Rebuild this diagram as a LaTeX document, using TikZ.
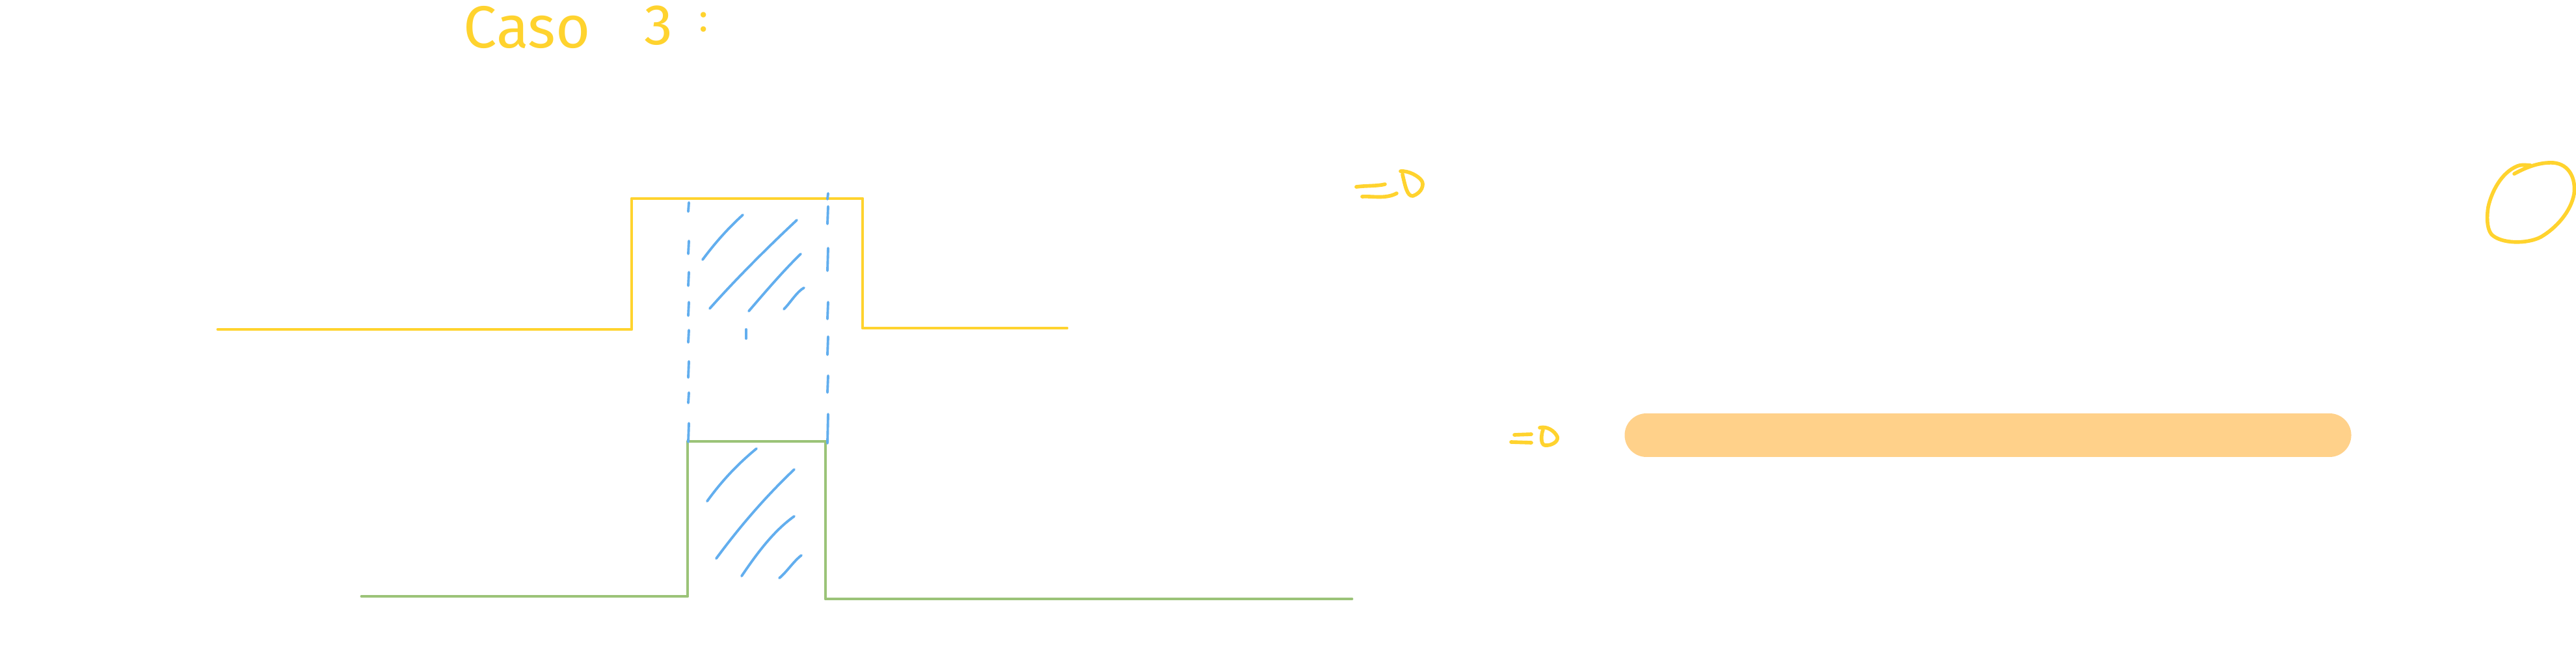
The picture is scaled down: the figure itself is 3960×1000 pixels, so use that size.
\documentclass[tikz,border=0pt]{standalone}
\usepackage{fontspec}
\setmainfont{Fira Sans}
\definecolor{hyellow}{RGB}{255,211,46}
\definecolor{hgreen}{RGB}{155,195,120}
\definecolor{hblue}{RGB}{98,174,238}
\definecolor{horange}{RGB}{255,209,138}
\begin{document}
\begin{tikzpicture}[x=0.01cm,y=-0.01cm,line cap=round,line join=round,
  yline/.style={hyellow,line width=1.4pt},
  gline/.style={hgreen,line width=1.4pt},
  hatch/.style={hblue,line width=1.1pt},
  dashseg/.style={hblue,line width=1.1pt},
  ink/.style={hyellow,line width=1.6pt},
  titletext/.style={anchor=base west,inner sep=0pt,text=hyellow},
  bar/.style={horange,line width=0.67cm,line cap=round}]
\fill[white] (0,0) rectangle (3960,1000);
\useasboundingbox (0,0) rectangle (3960,1000);

% title
\node[titletext,font=\fontsize{26}{30}\selectfont] (caso) at (712,73) {Caso};
\node[titletext,font=\fontsize{25}{29}\selectfont] (tres) at (990,68) {3};
\node[titletext,font=\fontsize{17}{20}\selectfont] (colon) at (1074,48) {:};

% yellow step
\draw[yline] (335,506) -- (971,506) -- (971,305) -- (1326,305) -- (1326,504) -- (1640,504);

% green step
\draw[gline] (556,916) -- (1057,916) -- (1057,678) -- (1269,678) -- (1269,920) -- (2078,920);

% blue dashed lines (hand drawn segments)
\foreach \a/\b in {311/325,370/390,418/439,464/485,507/526,555/580,603/619,650/679}
  \draw[dashseg] (1059,\a) -- (1058,\b);
\foreach \a/\b in {297/306,317/344,381/416,464/490,517/545,577/603,636/681}
  \draw[dashseg] (1273,\a) -- (1272,\b);

% upper hatching
\draw[hatch] (1080,399) .. controls (1100,372) and (1120,350) .. (1142,330);
\draw[hatch] (1091,474) .. controls (1130,430) and (1180,380) .. (1225,338);
\draw[hatch] (1151,478) .. controls (1175,450) and (1205,415) .. (1231,390);
\draw[hatch] (1205,475) .. controls (1215,465) and (1225,448) .. (1236,442);
\draw[hatch] (1147,506) -- (1147,520);

% lower hatching
\draw[hatch] (1087,770) .. controls (1110,738) and (1135,712) .. (1163,689);
\draw[hatch] (1101,858) .. controls (1140,805) and (1180,760) .. (1221,721);
\draw[hatch] (1140,885) .. controls (1165,848) and (1190,815) .. (1221,793);
\draw[hatch] (1198,888) .. controls (1210,878) and (1220,862) .. (1232,853);

% upper implication arrow
\draw[ink] (2085,287) .. controls (2100,285) and (2118,286) .. (2129,283);
\draw[ink] (2094,302) .. controls (2110,301) and (2130,306) .. (2147,297);
\draw[ink] (2153,263) .. controls (2165,262) and (2180,270) .. (2185,277)
  .. controls (2190,283) and (2186,296) .. (2172,301)
  .. controls (2163,302) and (2160,285) .. (2156,268);

% lower implication arrow
\draw[ink] (2328,668) -- (2354,667);
\draw[ink] (2323,679) -- (2354,680);
\draw[ink] (2367,657) .. controls (2378,654) and (2390,662) .. (2394,671)
  .. controls (2396,679) and (2384,685) .. (2375,684)
  .. controls (2368,683) and (2369,668) .. (2372,660);

% orange bar
\draw[bar] (2531,668.5) -- (3581,668.5);

% circle (hand drawn)
\draw[ink] (3865,267) .. controls (3885,256) and (3905,249) .. (3925,250)
  .. controls (3950,252) and (3960,275) .. (3957,298)
  .. controls (3952,325) and (3930,350) .. (3906,364)
  .. controls (3885,375) and (3845,375) .. (3830,360)
  .. controls (3822,350) and (3823,330) .. (3825,318)
  .. controls (3830,295) and (3845,265) .. (3870,255)
  .. controls (3878,252) and (3885,254) .. (3890,254);
\end{tikzpicture}
\end{document}
